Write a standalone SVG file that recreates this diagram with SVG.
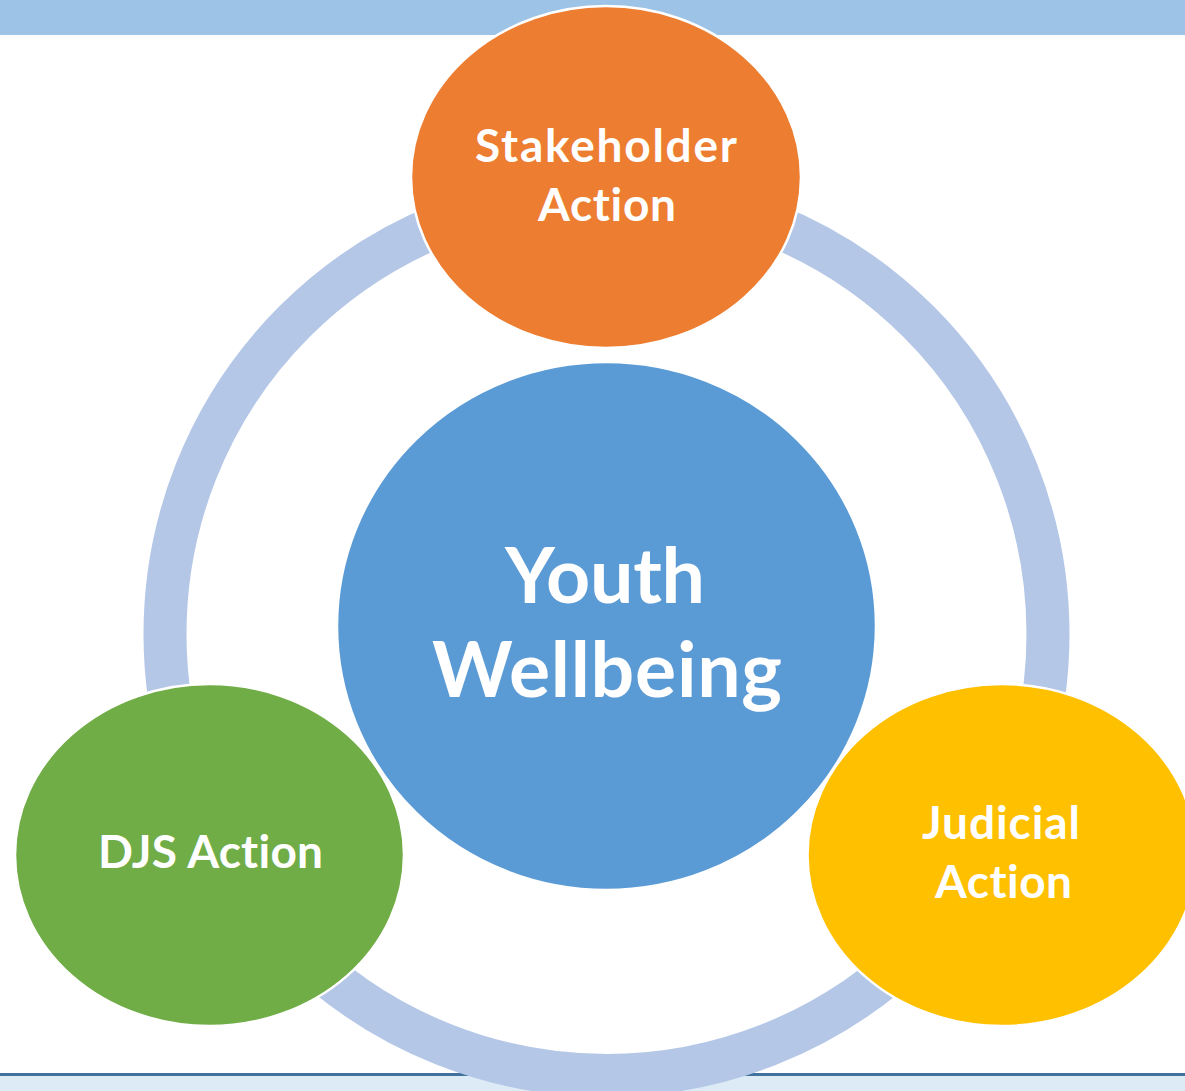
<svg xmlns="http://www.w3.org/2000/svg" width="1185" height="1091" viewBox="0 0 1185 1091">
<style>
.node{stroke:#FFFFFF;stroke-width:2.5}
.lbl{font-family:Lato,"Open Sans","Liberation Sans",sans-serif;font-weight:bold;fill:#FFFFFF;text-anchor:middle;font-variant-ligatures:none;font-feature-settings:"liga" 0}
.sm{font-size:46px}
.lg{font-size:77px}
</style>
<rect x="0" y="0" width="1185" height="1091" fill="#FFFFFF"/>
<rect x="0" y="0" width="1185" height="35" fill="#9DC3E6"/>
<rect x="0" y="1076" width="1185" height="15" fill="#DDEBF7"/>
<rect x="0" y="1073" width="1185" height="3" fill="#41719C"/>
<g id="connectors">
<circle cx="606.5" cy="634" r="441.5" fill="none" stroke="#B4C7E7" stroke-width="43"/>
</g>
<g id="stakeholder">
<ellipse class="node" cx="606" cy="177" rx="195" ry="171" fill="#ED7D31"/>
<text class="lbl sm" x="606" y="162" textLength="262" lengthAdjust="spacing">Stakeholder</text>
<text class="lbl sm" x="607" y="221" textLength="138" lengthAdjust="spacing">Action</text>
</g>
<g id="youth">
<ellipse class="node" cx="606.5" cy="626" rx="269.5" ry="264" fill="#5B9BD5"/>
<text class="lbl lg" x="605" y="603" textLength="200" lengthAdjust="spacing">Youth</text>
<text class="lbl lg" x="607" y="697" textLength="350" lengthAdjust="spacing">Wellbeing</text>
</g>
<g id="djs">
<ellipse class="node" cx="209.5" cy="855" rx="194.5" ry="171" fill="#70AD47"/>
<text class="lbl sm" x="210.5" y="868" textLength="225" lengthAdjust="spacing">DJS Action</text>
</g>
<g id="judicial">
<ellipse class="node" cx="1002" cy="855" rx="194.5" ry="171" fill="#FFC000"/>
<text class="lbl sm" x="1001" y="839" textLength="158" lengthAdjust="spacing">Judicial</text>
<text class="lbl sm" x="1003.5" y="898" textLength="137" lengthAdjust="spacing">Action</text>
</g>
</svg>
